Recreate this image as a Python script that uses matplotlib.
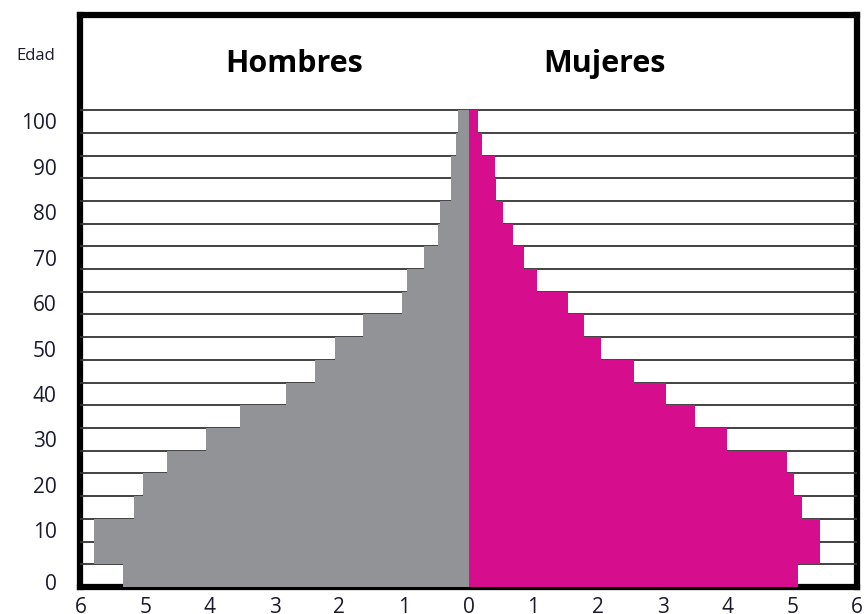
import matplotlib
matplotlib.use("Agg")
from matplotlib import pyplot as plt
import numpy as np

plt.rcParams['font.family'] = ['Open Sans', 'DejaVu Sans']

# grupos quinquenales de edad, de 0-4 a 100+
grupos = ['0-4', '5-9', '10-14', '15-19', '20-24', '25-29', '30-34', '35-39',
          '40-44', '45-49', '50-54', '55-59', '60-64', '65-69', '70-74',
          '75-79', '80-84', '85-89', '90-94', '95-99', '100+']
hombres = [5.34, 5.79, 5.79, 5.18, 5.03, 4.67, 4.06, 3.54, 2.83, 2.38, 2.06,
           1.63, 1.04, 0.96, 0.70, 0.48, 0.45, 0.28, 0.28, 0.20, 0.17]
mujeres = [5.09, 5.42, 5.42, 5.14, 5.03, 4.91, 3.99, 3.50, 3.04, 2.55, 2.04,
           1.78, 1.53, 1.05, 0.86, 0.69, 0.53, 0.42, 0.40, 0.20, 0.14]
etiquetas_edad = ['0', '10', '20', '30', '40', '50', '60', '70', '80', '90', '100']
ticks_x = [-6, -5, -4, -3, -2, -1, 0, 1, 2, 3, 4, 5, 6]

gris = '#929396'
rosa = '#d60d8c'

fig = plt.figure(figsize=(8.65, 6.14), dpi=100)
ax = fig.add_axes([0.093, 0.044, 0.898, 0.932])

y = np.arange(len(grupos))
ax.barh(y, -np.array(hombres), height=1.0, align='edge', color=gris, zorder=3)
ax.barh(y, mujeres, height=1.0, align='edge', color=rosa, zorder=3)

# separadores de cada grupo de edad
for k in range(1, len(grupos) + 1):
    ax.axhline(k, color='#333333', lw=1.3, zorder=1)

ax.set_xlim(-6, 6)
ax.set_ylim(0, 25.2)

for s in ax.spines.values():
    s.set_linewidth(4.5)
    s.set_zorder(0.5)

ax.set_xticks(ticks_x)
ax.set_xticklabels([str(abs(t)) for t in ticks_x])
yt = [0.2] + [2 * i + 0.5 for i in range(1, len(etiquetas_edad))]
ax.set_yticks(yt)
ax.set_yticklabels(etiquetas_edad)
ax.tick_params(axis='both', length=0, labelsize=15, colors='#1a1a2e')
ax.tick_params(axis='y', pad=17)
ax.tick_params(axis='x', pad=7)

ax.text(-2.7, 22.68, 'Hombres', fontsize=22, fontweight='bold',
        ha='center', va='baseline')
ax.text(2.09, 22.68, 'Mujeres', fontsize=22, fontweight='bold',
        ha='center', va='baseline')
fig.text(36 / 865, 1 - 56 / 614, 'Edad', fontsize=12, ha='center', va='center',
         color='#1a1a2e')

fig.savefig('out.png', dpi=100)
